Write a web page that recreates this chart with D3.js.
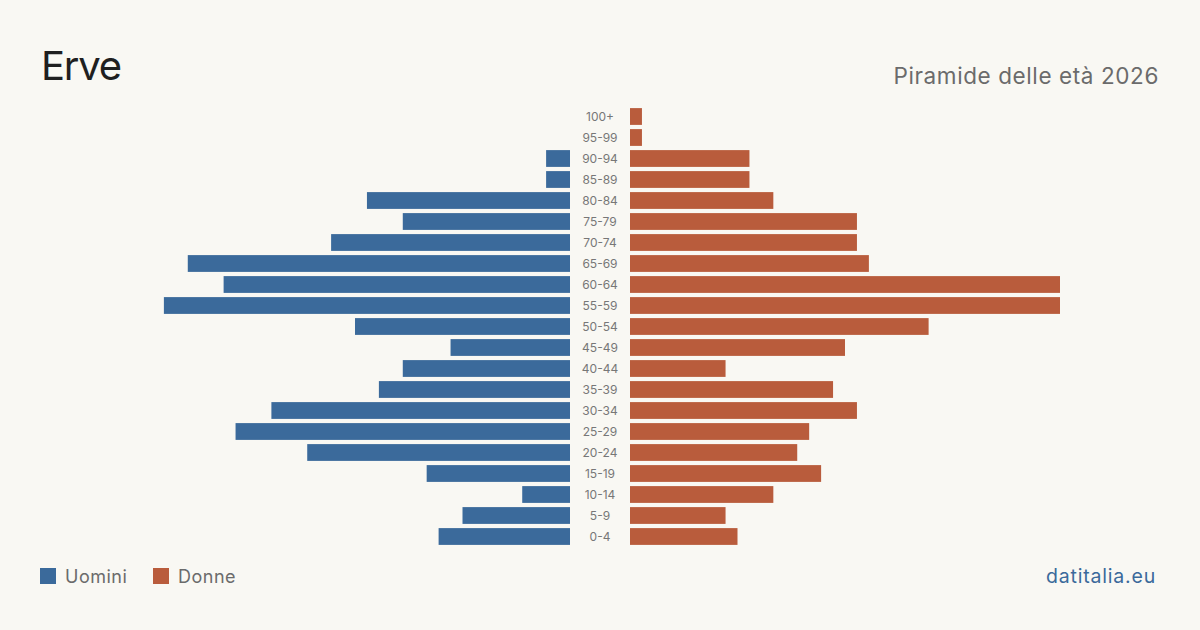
<!DOCTYPE html>
<html>
<head>
<meta charset="utf-8">
<script src="https://cdn.jsdelivr.net/npm/d3@7"></script>
<style>
html,body{margin:0;padding:0;background:#f9f8f3;}
svg{display:block;font-family:Inter, "Noto Sans", sans-serif;}
</style>
</head>
<body>
<svg id="chart" width="1200" height="630"></svg>
<script>
const ageGroups = ["100+","95-99","90-94","85-89","80-84","75-79","70-74","65-69","60-64","55-59","50-54","45-49","40-44","35-39","30-34","25-29","20-24","15-19","10-14","5-9","0-4"];
const men   = [0,0,2,2,17,14,20,32,29,34,18,10,14,16,25,28,22,12,4,9,11];
const women = [1,1,10,10,12,19,19,20,36,36,25,18,8,17,19,15,14,16,12,8,9];
const title = "Erve";
const subtitle = "Piramide delle età 2026";
const legendLabels = ["Uomini","Donne"];
const source = "datitalia.eu";

const svg = d3.select("#chart");
const W = 1200, H = 630;
svg.append("rect").attr("width",W).attr("height",H).attr("fill","#f9f8f3");

const blue = "#3b6a9b", orange = "#b95c3c";
const centerL = 570, centerR = 630;
const maxV = 36;
const xL = d3.scaleLinear().domain([0,maxV]).range([centerL, centerL-430]);
const xR = d3.scaleLinear().domain([0,maxV]).range([centerR, centerR+430]);
const y = d3.scaleBand().domain(ageGroups).range([106, 547]).paddingInner(0.2).paddingOuter(0.1);

svg.append("text").attr("x",41).attr("y",80).attr("font-size",40).attr("letter-spacing",-1.2).attr("fill","#1f1f1f").text(title);
svg.append("text").attr("x",1159).attr("y",84).attr("text-anchor","end").attr("font-size",22.5).attr("letter-spacing",0.6).attr("fill","#6b6b6b").text(subtitle);

svg.append("g").selectAll("rect").data(ageGroups).join("rect")
  .attr("x",(d,i)=>xL(men[i])).attr("y",d=>y(d))
  .attr("width",(d,i)=>xL(0)-xL(men[i])).attr("height",y.bandwidth())
  .attr("fill",blue);
svg.append("g").selectAll("rect").data(ageGroups).join("rect")
  .attr("x",xR(0)).attr("y",d=>y(d))
  .attr("width",(d,i)=>xR(women[i])-xR(0)).attr("height",y.bandwidth())
  .attr("fill",orange);
svg.append("g").selectAll("text").data(ageGroups).join("text")
  .attr("x",600).attr("y",d=>y(d)+y.bandwidth()/2).attr("dy","0.35em")
  .attr("text-anchor","middle").attr("font-size",12).attr("fill","#777").text(d=>d);

const leg = [{x:40,c:blue,t:legendLabels[0]},{x:153,c:orange,t:legendLabels[1]}];
leg.forEach(l=>{
  svg.append("rect").attr("x",l.x).attr("y",568).attr("width",16).attr("height",16).attr("fill",l.c);
  svg.append("text").attr("x",l.x+25).attr("y",583).attr("font-size",18).attr("letter-spacing",0.5).attr("fill","#6b6b6b").text(l.t);
});
svg.append("text").attr("x",1156).attr("y",583).attr("text-anchor","end").attr("font-size",19.5).attr("letter-spacing",0.8).attr("fill","#3b6a9b").text(source);
</script>
</body>
</html>
